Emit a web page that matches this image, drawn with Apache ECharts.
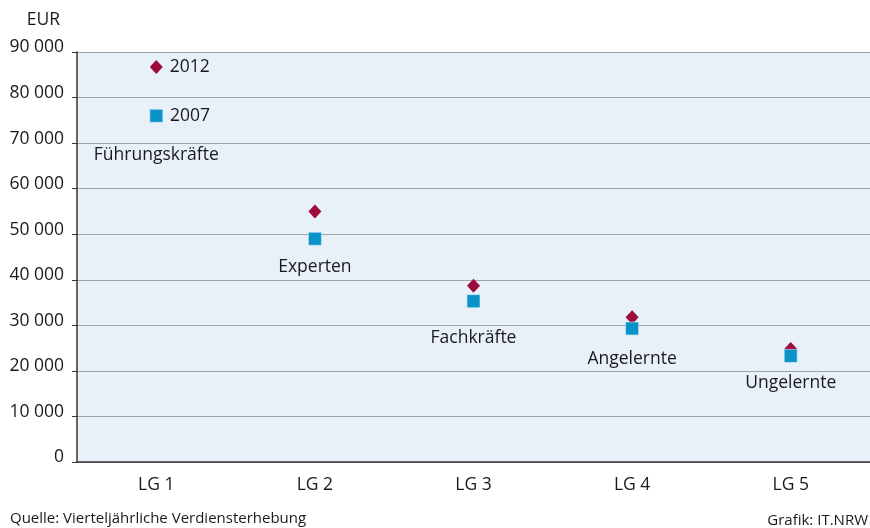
<!DOCTYPE html>
<html>
<head>
<meta charset="utf-8">
<script src="https://cdn.jsdelivr.net/npm/echarts@6/dist/echarts.min.js"></script>
<style>
  html, body { margin: 0; padding: 0; background: #fff; }
  #container { width: 870px; height: 528px; }
</style>
</head>
<body>
<div id="container"></div>
<script>
var categories = ["LG 1", "LG 2", "LG 3", "LG 4", "LG 5"];
var groupNames = ["Führungskräfte", "Experten", "Fachkräfte", "Angelernte", "Ungelernte"];
var values2012 = [86700, 55000, 38700, 31800, 24800];
var values2007 = [76000, 49000, 35300, 29300, 23300];

var dom = document.getElementById("container");
var myChart = echarts.init(dom);
var font = "'Open Sans', 'Noto Sans', sans-serif";
var ink = "#1a1a1a";

function fmt(v) {
    return String(v).replace(/\B(?=(\d{3})+(?!\d))/g, " ");
}

// label under each 2007 point, the gap differs per group
function nameDistance(i) {
    return [30, 19, 28, 21, 18][i];
}

function seriesLabel(i) {
    return {
        show: i === 0,
        position: "right",
        distance: 7,
        formatter: "{a}",
        color: ink,
        fontSize: 17.5,
    };
}

var option = {
    animation: false,
    textStyle: { fontFamily: font },
    grid: {
        left: 77,
        right: 0,
        top: 52,
        bottom: 66,
        show: true,
        backgroundColor: "#e8f0fa",
        borderWidth: 0,
    },
    graphic: [
        {
            type: "text",
            right: 810,
            top: 11,
            style: { text: "EUR", font: "17.5px " + font, fill: ink },
        },
        {
            type: "text",
            left: 10,
            top: 511,
            style: { text: "Quelle: Vierteljährliche Verdiensterhebung", font: "15px " + font, fill: ink },
        },
        {
            type: "text",
            right: 2,
            top: 513,
            style: { text: "Grafik: IT.NRW", font: "15px " + font, fill: ink },
        },
    ],
    xAxis: {
        type: "category",
        data: categories,
        axisLine: { lineStyle: { color: "#333", width: 1.5 } },
        axisTick: { show: false },
        axisLabel: { color: ink, fontSize: 17.5, margin: 14 },
    },
    yAxis: {
        type: "value",
        min: 0,
        max: 90000,
        interval: 10000,
        axisLine: { show: true, lineStyle: { color: "#333", width: 1.5 } },
        axisTick: { show: true, length: 5, lineStyle: { color: "#333" } },
        splitLine: { lineStyle: { color: "#a2a2a2", width: 1.2 } },
        axisLabel: {
            color: ink,
            fontSize: 17.5,
            margin: 13,
            verticalAlign: "bottom",
            lineHeight: 9,
            formatter: fmt,
        },
    },
    series: [
        {
            name: "2012",
            type: "scatter",
            symbol: "diamond",
            symbolSize: [13, 14],
            itemStyle: { color: "#9c0b3b", opacity: 1 },
            data: values2012.map(function (v, i) {
                return { value: v, label: seriesLabel(i) };
            }),
            z: 2,
        },
        {
            name: "2007",
            type: "scatter",
            symbol: "rect",
            symbolSize: 13,
            itemStyle: { color: "#0a93c9", opacity: 1, borderColor: "#d8eaf6", borderWidth: 0.6 },
            data: values2007.map(function (v, i) {
                return { value: v, label: seriesLabel(i) };
            }),
            z: 3,
        },
        {
            name: "Gruppen",
            type: "scatter",
            symbolSize: 0,
            silent: true,
            itemStyle: { opacity: 1 },
            data: values2007.map(function (v, i) {
                return {
                    value: v,
                    label: {
                        show: true,
                        position: "bottom",
                        distance: nameDistance(i),
                        color: ink,
                        fontSize: 17.5,
                        formatter: groupNames[i],
                    },
                };
            }),
            z: 4,
        },
    ],
};

myChart.setOption(option);
</script>
</body>
</html>
